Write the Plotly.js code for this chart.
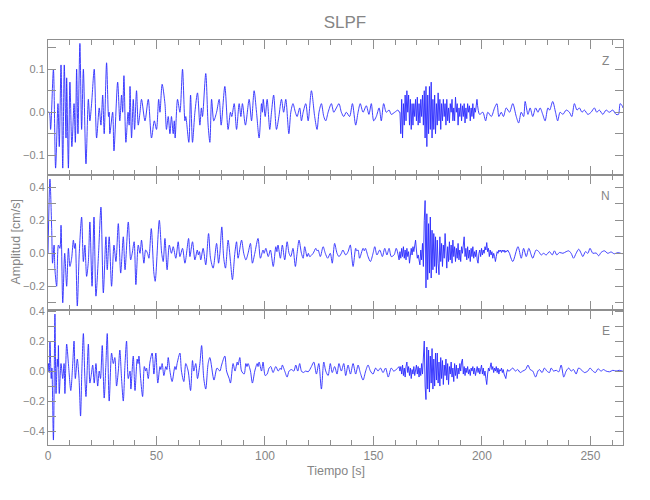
<!DOCTYPE html>
<html>
<head>
<meta charset="utf-8">
<script src="https://cdn.plot.ly/plotly-3.0.1.min.js"></script>
<style>html,body{margin:0;padding:0;background:#fff;}#chart{width:650px;height:500px;}</style>
</head>
<body>
<div id="chart"></div>
<script>
// ---- DATA ----
// Samples are [time (s), amplitude (cm/s)]
const componentNames = ["Z", "N", "E"];

const zSamples = [
[0,0],[0.6,0],[1.2,-0.04],[2.5,0.10],[3.5,-0.13],[4.6,0.02],[5.2,-0.08],[6.0,0.11],[6.8,-0.13],[7.5,0.11],
[8.3,-0.06],[8.6,0.08],[9.4,-0.13],[10.1,0.07],[11.0,-0.08],[12.0,0.02],[12.6,-0.07],[13.2,0.10],[13.8,-0.05],[14.7,0.16],
[15.5,-0.04],[16.3,0.10],[17.5,-0.12],[18.6,0.03],[19.3,-0.02],[20.1,0.02],[21.3,0.10],[22.4,-0.06],[23.6,0.01],[24.4,-0.03],
[25.2,0.04],[25.9,-0.05],[27.0,0.115],[27.9,-0.01],[28.2,0.0],[28.5,-0.05],[29.8,0.0],[30.4,-0.09],[32.1,0.07],[33.1,-0.02],
[33.9,0.04],[34.4,0.0],[35.0,0.085],[35.9,-0.07],[36.9,0.0],[37.4,-0.03],[37.8,0.06],[38.5,-0.06],[39.3,0.03],[39.9,-0.04],
[40.8,0.05],[41.6,-0.03],[42.4,0.0],[43.1,0.03],[44.7,-0.02],[46.2,0.03],[47.7,-0.06],[49.0,-0.02],[50.0,-0.04],[51.0,0.03],
[51.6,0.0],[52.6,0.065],[53.9,0.02],[54.6,-0.04],[55.4,-0.01],[56.2,-0.05],[56.9,-0.01],[57.7,-0.05],[58.2,-0.02],[58.6,-0.06],
[59.7,0.03],[60.8,0.0],[62.0,0.10],[63.1,-0.02],[63.5,-0.01],[64.9,-0.07],[65.7,0.04],[66.6,-0.07],[67.7,0.0],[68.9,0.045],
[70.0,-0.03],[70.7,0.01],[71.2,-0.01],[72.7,0.09],[73.8,-0.03],[74.6,-0.07],[75.4,0.03],[76.4,-0.02],[77.7,0.0],[78.9,0.03],
[79.8,-0.03],[81.5,0.06],[83.0,-0.04],[84.1,0.0],[84.7,-0.01],[85.8,0.02],[86.9,-0.04],[88.1,0.02],[88.9,-0.01],[89.6,0.02],
[91.0,-0.03],[92.7,0.03],[93.8,-0.02],[95.0,0.05],[96.1,0.0],[97.3,-0.06],[98.4,0.02],[98.8,0.0],[99.2,0.03],[100.1,-0.01],
[101.0,0.03],[102.2,-0.04],[103.0,0.0],[104.0,0.04],[105.3,-0.04],[106.4,-0.01],[107.6,0.03],[108.6,0.0],[109.6,0.03],[111.0,-0.05],
[111.9,0.0],[112.9,0.02],[114.0,0.0],[114.8,-0.01],[116.0,0.01],[116.8,-0.02],[117.6,0.0],[118.8,0.02],[119.9,-0.02],[121.4,0.05],
[122.9,-0.01],[124.0,-0.04],[124.9,0.0],[126.0,0.02],[127.1,-0.01],[128.0,-0.02],[129.1,0.0],[130.6,0.02],[131.7,0.0],[132.9,0.01],
[134.1,0.02],[135.2,0.0],[136.3,-0.01],[137.5,0.0],[139.0,-0.01],[140.3,0.02],[141.8,-0.03],[142.9,0.0],[143.9,0.02],[145.2,0.0],
[146.7,0.015],[147.9,-0.005],[149.0,0.02],[150.1,-0.02],[151.3,-0.01],[152.6,0.01],[153.6,-0.02],[154.7,0.02],[155.9,0.0],[157.2,0.005],
[158.2,-0.005],[159.8,0.0],[161.3,0.005],[161.9,0.0],
[197.7,0.03],[198.9,-0.005],[200.4,0.0],[201.7,-0.02],[202.7,0.0],[204.3,-0.01],[205.8,0.01],[206.9,0.02],[207.8,-0.01],[208.9,0.0],
[209.9,-0.01],[211.2,0.01],[212.7,0.0],[214.2,0.02],[215.8,-0.01],[216.9,-0.025],[218.1,0.0],[219.2,-0.01],[219.9,0.025],[221.2,-0.005],
[222.2,0.01],[223.4,-0.01],[224.7,0.01],[225.8,0.0],[226.8,0.01],[228.0,-0.005],[229.1,-0.02],[230.4,0.01],[231.2,0.005],[232.6,0.025],
[233.9,0.0],[234.9,-0.02],[236.0,0.0],[237.3,-0.005],[238.8,0.005],[240.3,0.0],[241.4,-0.01],[242.6,0.02],[243.8,0.005],[244.9,0.01],
[246.1,0.0],[247.2,0.005],[248.8,-0.005],[250.3,0.0],[251.8,0.01],[252.9,0.0],[254.1,0.005],[255.7,-0.005],[257.2,0.005],[258.7,0.0],
[260.3,0.005],[261.8,-0.005],[262.9,-0.005],[263.7,0.02],[264.6,0.015],[265,0.01]
];
// high-frequency arrival, sampled every burstStep seconds from burstStart
const burstStart = 162.2;
const burstStep = 0.4;
const zBurst = [
0.00,-0.05,0.03,-0.06,0.02,-0.03,0.04,-0.02,0.05,0.00,
0.04,-0.03,0.03,-0.04,0.02,-0.03,0.02,-0.01,0.03,-0.02,
0.035,-0.03,0.02,-0.025,0.03,-0.01,0.04,-0.03,0.05,-0.06,
0.06,-0.08,0.04,-0.05,0.06,-0.04,0.07,-0.06,0.03,-0.04,
0.04,-0.05,0.02,-0.03,0.045,-0.02,0.03,-0.04,0.02,-0.02,
0.03,-0.01,0.02,-0.03,0.03,-0.02,0.01,-0.025,0.02,0.0,
0.03,-0.02,0.01,-0.02,0.035,0.0,0.02,-0.03,0.01,-0.01,
0.02,-0.02,0.015,-0.01,0.02,-0.025,0.01,-0.015,0.02,0.0,
0.015,-0.02,0.01,-0.01,0.02,-0.015,0.01,0.0,0.02
];

const nSamples = [
[0,0],[0.9,0.45],[1.7,0.15],[2.1,-0.06],[2.8,0.05],[3.2,-0.1],[4.0,-0.2],[4.8,0.05],[5.5,0.03],[6.0,0.17],
[6.8,-0.3],[7.7,0.0],[8.6,-0.2],[9.4,0.03],[10.1,-0.08],[10.9,-0.03],[11.7,0.08],[12.2,0.03],[12.6,0.06],[13.5,-0.32],
[14.4,0.0],[15.5,0.22],[16.3,-0.05],[17.0,0.05],[17.8,-0.14],[18.6,-0.05],[19.3,0.19],[20.3,-0.2],[21.2,0.22],[22.1,-0.26],
[23.3,0.0],[24.4,0.28],[25.5,-0.24],[26.7,0.10],[27.3,-0.1],[28.2,0.1],[29.3,-0.2],[30.4,0.05],[31.3,-0.05],[32.4,0.18],
[33.5,-0.12],[34.7,0.1],[35.5,-0.1],[37.0,0.19],[38.1,-0.04],[38.8,0.0],[39.7,0.07],[40.5,-0.19],[41.6,0.05],[42.4,0.0],
[43.1,0.08],[44.2,-0.06],[45.0,0.02],[45.9,0.0],[46.5,-0.03],[47.6,0.15],[48.8,-0.12],[49.4,-0.17],[51.3,0.2],[52.4,0.0],
[53.1,-0.05],[53.9,0.09],[54.9,-0.1],[55.9,0.05],[56.9,0.0],[57.7,0.04],[58.9,-0.03],[60.0,0.07],[60.8,-0.02],[62.0,0.03],
[63.1,-0.06],[64.8,0.09],[65.4,-0.02],[66.6,0.07],[67.7,-0.04],[68.8,0.02],[69.3,-0.01],[69.8,0.01],[70.4,-0.04],[71.5,0.03],
[72.7,-0.07],[74.0,0.12],[74.9,-0.03],[76.1,-0.09],[77.7,0.06],[78.6,-0.06],[79.2,0.0],[80.1,0.16],[81.0,-0.03],[81.8,-0.09],
[83.0,0.08],[84.1,-0.05],[85.0,-0.16],[86.1,0.0],[86.9,0.07],[87.6,-0.03],[89.2,0.08],[90.2,0.0],[91.2,-0.04],[92.2,0.0],
[93.3,0.06],[94.2,-0.06],[95.3,0.0],[96.8,0.09],[97.9,-0.03],[99.1,0.02],[99.6,0.0],[100.4,0.03],[101.5,-0.02],[102.5,0.02],
[103.8,-0.08],[105.0,0.04],[105.5,0.01],[106.0,0.05],[107.1,-0.03],[108.0,0.05],[109.1,-0.04],[110.2,0.07],[111.1,0.0],[111.9,-0.02],
[112.9,0.03],[114.0,-0.08],[114.8,0.0],[115.7,0.08],[116.8,0.0],[117.6,-0.03],[118.3,0.04],[119.4,-0.02],[120.0,0.0],[120.6,-0.02],
[122.2,0.0],[123.4,0.03],[124.0,0.015],[124.5,0.02],[125.5,-0.02],[126.8,0.04],[127.8,0.0],[128.9,-0.03],[130.1,0.0],[131.0,-0.06],
[132.1,0.06],[133.2,0.0],[134.1,-0.02],[135.2,0.0],[135.9,0.02],[137.2,-0.01],[138.3,0.01],[139.3,0.05],[140.6,-0.08],[141.8,0.03],
[142.3,0.015],[142.9,0.02],[143.6,-0.03],[145.2,0.03],[145.8,0.015],[146.3,0.03],[147.5,-0.02],[148.6,-0.05],[149.8,0.0],[150.6,0.04],
[151.6,-0.01],[152.9,0.02],[154.1,-0.02],[155.2,0.03],[156.2,-0.01],[157.2,0.03],[158.2,-0.02],[159.5,-0.01],[160.5,0.03],[161.8,-0.04],
[212.7,0.0],[214.2,-0.05],[216.6,0.04],[218.1,-0.03],[219.2,0.03],[220.4,-0.02],[221.6,0.03],[222.7,-0.01],[223.4,-0.03],[225.0,0.02],
[226.2,0.01],[227.3,-0.01],[228.4,0.0],[229.6,-0.01],[231.1,0.01],[232.4,-0.01],[233.4,0.015],[234.5,-0.01],[235.7,0.005],[237.3,0.0],
[238.8,0.01],[240.0,0.015],[241.1,0.0],[242.2,-0.03],[243.4,0.0],[244.6,0.025],[245.7,0.0],[246.5,-0.02],[247.7,0.01],[248.8,0.0],
[249.8,0.03],[251.1,0.0],[252.6,0.002],[253.8,-0.015],[254.9,0.005],[256.4,0.015],[258.0,0.0],[259.5,0.008],[261.0,-0.003],[262.6,0.004],
[264.6,-0.002],[265,0.0]
];
const nBurst = [
0.01,-0.03,0.03,-0.02,0.04,-0.03,0.02,-0.04,0.03,-0.02,
0.01,-0.06,0.0,0.03,-0.01,0.04,0.01,0.05,0.08,0.02,
-0.03,-0.01,-0.05,-0.07,0.02,-0.04,0.06,-0.08,0.20,0.32,
-0.21,0.24,-0.16,0.18,-0.12,0.22,-0.15,0.14,-0.1,0.12,
-0.08,0.1,-0.12,0.08,-0.06,-0.13,0.1,-0.05,0.06,-0.08,
0.05,-0.03,0.12,-0.02,-0.09,0.04,-0.05,0.07,-0.04,0.05,
-0.06,0.08,-0.02,0.04,-0.05,0.03,-0.03,0.06,-0.04,0.02,
-0.05,0.04,0.0,0.05,0.10,-0.02,0.03,-0.04,0.04,-0.03,
0.02,-0.05,0.03,-0.02,0.04,-0.03,0.01,-0.02,0.02,-0.04,
-0.06,0.0,0.02,-0.02,0.03,-0.01,0.02,0.0,0.04,0.02,
0.065,0.01,0.03,-0.02,0.02,-0.01,0.01,-0.03,0.0,-0.02,
-0.05,-0.02,0.01,0.0,0.02,0.01,0.02,0.005,0.02,0.01,
0.02,0.005,0.015,0.01,0.02
];

const eSamples = [
[0,0],[0.2,0.05],[0.6,-0.01],[0.9,0.2],[1.5,-0.05],[1.8,0.02],[2.5,-0.46],[3.2,0.38],[3.7,-0.15],[4.3,0.08],
[4.6,0.03],[4.8,0.17],[5.2,-0.15],[6.0,0.05],[6.8,-0.05],[7.4,0.05],[7.8,-0.15],[8.6,0.18],[9.4,0.05],[10.5,-0.13],
[11.4,0.05],[12.0,0.2],[12.6,-0.05],[13.5,0.08],[14.3,-0.05],[15.0,-0.3],[15.6,0.0],[16.3,0.25],[17.0,-0.05],[17.5,-0.17],
[18.6,0.18],[19.3,-0.08],[19.9,-0.03],[20.6,0.04],[21.3,-0.08],[22.1,0.05],[22.9,-0.1],[23.6,0.0],[24.2,-0.05],[25.0,0.17],
[25.9,-0.18],[26.7,0.05],[27.3,0.25],[28.2,-0.2],[29.3,0.12],[30.1,0.05],[30.8,0.09],[31.6,-0.1],[32.4,0.0],[33.1,0.14],
[33.9,-0.05],[34.7,-0.2],[35.5,0.05],[36.2,0.2],[37.0,-0.05],[37.8,0.0],[38.2,-0.12],[39.3,0.1],[40.1,-0.13],[41.1,0.08],
[41.5,0.05],[41.9,0.1],[42.7,-0.05],[43.6,-0.17],[44.4,0.03],[45.0,0.0],[45.4,0.02],[46.2,-0.05],[47.0,0.06],[48.0,0.12],
[48.8,-0.02],[49.7,0.12],[50.6,-0.08],[51.6,0.03],[52.0,0.01],[52.6,0.05],[53.4,-0.03],[54.3,0.03],[54.8,0.01],[55.4,0.09],
[56.2,0.0],[57.2,-0.07],[58.5,0.03],[59.0,0.01],[59.5,0.05],[60.8,0.12],[61.5,0.0],[62.6,-0.07],[63.5,0.05],[64.6,0.0],
[65.7,-0.13],[66.6,0.07],[67.2,0.0],[68.1,0.05],[68.9,-0.05],[70.0,0.05],[70.8,0.17],[71.8,-0.05],[72.7,-0.12],[73.8,0.05],
[74.6,0.09],[76.5,-0.06],[77.9,0.02],[79.2,0.0],[80.0,0.04],[81.5,0.1],[82.3,0.0],[83.5,-0.05],[84.1,-0.08],[85.3,0.05],
[86.2,0.0],[87.2,0.06],[87.6,0.04],[88.4,0.09],[89.2,0.0],[90.4,-0.02],[91.2,0.05],[91.7,0.03],[92.2,0.05],[93.3,0.0],
[94.2,-0.08],[95.3,0.0],[96.4,0.05],[96.8,0.03],[97.3,0.06],[98.4,0.0],[99.1,0.06],[100.1,-0.03],[101.0,-0.02],[101.9,0.02],
[102.7,0.03],[103.7,-0.01],[105.0,0.03],[106.1,0.0],[107.1,0.02],[107.5,0.01],[108.0,0.04],[109.1,0.0],[110.2,-0.04],[111.1,0.0],
[112.2,0.01],[113.3,0.0],[114.2,0.04],[115.1,0.0],[116.0,0.05],[116.8,0.0],[117.6,-0.01],[118.8,0.0],[119.9,-0.005],[121.4,0.03],
[122.5,0.06],[123.7,-0.02],[124.8,0.05],[126.0,-0.12],[127.1,0.06],[128.0,0.0],[129.1,-0.03],[130.1,0.05],[131.0,-0.01],[132.1,0.03],
[133.2,-0.02],[134.1,0.05],[135.2,0.0],[136.3,0.05],[137.2,-0.03],[138.3,0.04],[139.4,-0.02],[140.6,0.05],[141.8,-0.02],[142.9,0.04],
[143.9,-0.01],[145.2,-0.06],[146.4,0.0],[147.5,0.04],[148.6,0.0],[149.8,-0.02],[151.0,0.02],[152.1,0.0],[153.2,0.02],[154.4,-0.01],
[155.6,0.02],[156.8,-0.04],[158.2,0.02],[159.3,0.0],[160.5,0.01],[161.8,0.03],
[212.7,0.0],[214.2,0.02],[215.4,0.0],[216.5,0.01],[217.6,-0.01],[218.8,0.0],[220.1,0.01],[221.2,0.04],[222.2,0.01],[223.4,0.0],
[224.7,-0.04],[225.8,0.0],[226.5,0.01],[227.7,-0.01],[228.8,0.02],[229.9,0.0],[231.1,-0.01],[231.9,0.02],[233.0,0.0],[234.2,0.005],
[235.4,-0.005],[236.5,0.04],[237.7,-0.04],[238.8,0.0],[240.0,0.02],[241.1,0.0],[242.2,0.01],[243.4,-0.02],[244.5,0.02],[245.7,0.01],
[247.2,-0.01],[248.8,0.0],[249.8,0.02],[251.1,0.0],[252.3,-0.01],[253.5,0.015],[254.9,0.0],[256.0,0.01],[257.2,0.0],[258.8,-0.005],
[260.3,0.005],[261.8,0.0],[263.3,0.005],[264.6,0.0],[265,0.0]
];
const eBurst = [
0.0,0.03,-0.02,0.04,-0.03,0.02,-0.04,0.03,0.06,-0.01,
0.03,-0.03,0.02,-0.05,0.01,-0.02,0.03,-0.03,0.02,0.04,
-0.02,0.03,-0.04,0.02,-0.03,0.05,-0.02,0.08,0.20,-0.10,
-0.19,0.16,-0.12,0.14,-0.14,0.10,-0.08,0.15,-0.12,0.08,
-0.1,0.12,-0.06,0.12,-0.08,0.06,-0.1,0.09,-0.05,0.07,
-0.09,0.04,-0.03,0.08,-0.06,0.05,-0.09,0.03,-0.02,0.06,
-0.04,0.02,-0.07,0.05,-0.03,0.04,-0.05,0.02,-0.02,0.05,
0.0,0.06,0.08,-0.02,0.03,-0.03,0.02,-0.01,0.03,-0.02,
0.01,-0.03,0.02,0.0,0.03,-0.02,0.02,-0.03,0.01,0.03,
-0.01,0.02,-0.02,0.01,0.04,-0.02,0.02,-0.03,0.0,-0.05,
-0.09,-0.02,0.02,0.0,0.03,0.055,0.01,0.03,-0.01,0.02,
0.0,0.03,-0.01,0.02,-0.02,0.01,0.0,0.02,-0.01,0.01,
-0.02,-0.04,-0.05,-0.01,0.01,0.0
];

// axis extents / tick steps per panel
const yRanges = [[-0.146, 0.168], [-0.344, 0.475], [-0.493, 0.407]];
const yMajor = [0.1, 0.2, 0.2];
const xRange = [0, 265];
const xTitle = "Tiempo [s]";
const yTitle = "Amplitud [cm/s]";
const chartTitle = "SLPF";

// ---- build: smooth parts (spline) + high-frequency burst (linear) ----
function segments(samples, burst) {
  const bt = burst.map((a, i) => +(burstStart + i * burstStep).toFixed(2));
  const bEnd = bt[bt.length - 1];
  const pre = samples.filter(p => p[0] < burstStart);
  const post = samples.filter(p => p[0] > bEnd);
  const mid = [pre[pre.length - 1]].concat(bt.map((t, i) => [t, burst[i]]), [post[0]]);
  const toXY = arr => ({ x: arr.map(p => p[0]), y: arr.map(p => p[1]) });
  return [[toXY(pre), "spline"], [toXY(mid), "linear"], [toXY(post), "spline"]];
}
const panels = [segments(zSamples, zBurst), segments(nSamples, nBurst), segments(eSamples, eBurst)];

const FONT = "'Liberation Sans', Arial, sans-serif";
const GREY = "#8f8f8f";
const TXT = "#858585";
const lineColor = "#2a2aff";

const traces = [];
panels.forEach((segs, i) => {
  segs.forEach(([s, shape]) => {
    traces.push({
      x: s.x, y: s.y, type: "scatter", mode: "lines",
      xaxis: i === 0 ? "x" : "x" + (i + 1),
      yaxis: i === 0 ? "y" : "y" + (i + 1),
      line: { color: lineColor, width: 0.9, shape: shape, smoothing: 0.8 },
      hoverinfo: "skip", name: componentNames[i]
    });
  });
});

const domains = [[2/3, 1], [1/3, 2/3], [0, 1/3]];
const layout = {
  width: 650, height: 500,
  margin: { l: 48, r: 26.5, t: 40, b: 55 },
  paper_bgcolor: "#ffffff", plot_bgcolor: "#ffffff",
  showlegend: false,
  font: { family: FONT, color: TXT, size: 12 },
  title: { text: chartTitle, x: 0.5165, xanchor: "center", xref: "paper", y: 1 - 22.5 / 500, yanchor: "middle",
           font: { family: FONT, size: 17, color: TXT } },
  annotations: []
};
for (let i = 0; i < 3; i++) {
  const sx = i === 0 ? "" : String(i + 1);
  layout["xaxis" + sx] = {
    domain: [0, 1], anchor: "y" + sx, range: xRange,
    showline: true, linecolor: GREY, linewidth: 1, mirror: "ticks",
    ticks: "inside", ticklen: 9, tickcolor: GREY, tickwidth: 1,
    tick0: 0, dtick: 50, showgrid: false, zeroline: false,
    showticklabels: i === 2,
    tickfont: { family: FONT, size: 12, color: TXT },
    minor: { ticks: "inside", ticklen: 5, dtick: 10, tickcolor: GREY, tickwidth: 1, showgrid: false }
  };
  layout["yaxis" + sx] = {
    domain: domains[i], anchor: "x" + sx, range: yRanges[i],
    showline: true, linecolor: GREY, linewidth: 1, mirror: "ticks",
    ticks: "inside", ticklen: 8, tickcolor: GREY, tickwidth: 1,
    tick0: 0, dtick: yMajor[i], tickformat: ".1f",
    showgrid: false, zeroline: false,
    tickfont: { family: FONT, size: 11, color: TXT },
    minor: { ticks: "inside", ticklen: 8, dtick: yMajor[i] / 2, tickcolor: GREY, tickwidth: 1, showgrid: false }
  };
  layout.annotations.push({
    text: componentNames[i], xref: "x" + sx + " domain", yref: "y" + sx + " domain",
    x: 0.970, y: 0.841, xanchor: "center", yanchor: "middle", showarrow: false,
    font: { family: FONT, size: 12, color: TXT }
  });
}
layout.annotations.push({
  text: xTitle, xref: "paper", yref: "paper", x: 0.5, y: -26 / 405, xanchor: "center", yanchor: "middle",
  showarrow: false, font: { family: FONT, size: 12.5, color: TXT }
});
layout.annotations.push({
  text: yTitle, xref: "paper", yref: "paper", x: -33 / 575.5, y: 0.5, xanchor: "center", yanchor: "middle",
  textangle: -90, showarrow: false, font: { family: FONT, size: 12.5, color: TXT }
});

Plotly.newPlot("chart", traces, layout, { staticPlot: true, displayModeBar: false });
</script>
</body>
</html>
